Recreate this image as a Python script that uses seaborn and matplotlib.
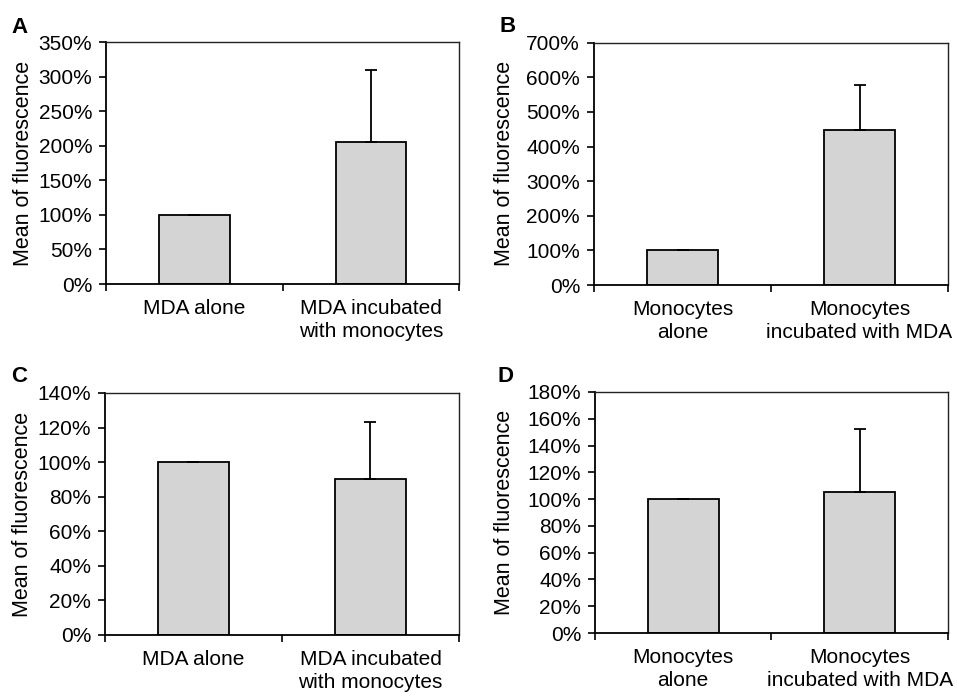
import numpy as np
import pandas as pd
import matplotlib
matplotlib.use("Agg")
import matplotlib.pyplot as plt
import seaborn as sns
from matplotlib.ticker import FixedLocator, PercentFormatter

sns.set_style("white")
plt.rcParams['font.family'] = ['Liberation Sans', 'DejaVu Sans']
plt.rcParams['text.color'] = 'black'
plt.rcParams['axes.labelcolor'] = 'black'
plt.rcParams['xtick.color'] = 'black'
plt.rcParams['ytick.color'] = 'black'

# data (percent of control)
labels_mda = ["MDA alone", "MDA incubated\nwith monocytes"]
labels_mono = ["Monocytes\nalone", "Monocytes\nincubated with MDA"]

means_a = [100, 206]
errs_a = [0, 104]
means_b = [100, 448]
errs_b = [0, 129]
means_c = [100, 90]
errs_c = [0, 33]
means_d = [100, 105.5]
errs_d = [0, 47]

ymax = [350, 700, 140, 180]
ystep = [50, 100, 20, 20]
letters = ["A", "B", "C", "D"]

fig = plt.figure(figsize=(9.57, 6.97), dpi=100)

# axes boxes in figure fractions
boxes = [
    [0.1108, 0.5925, 0.3689, 0.3472],
    [0.6207, 0.5911, 0.3699, 0.3476],
    [0.1097, 0.0890, 0.3699, 0.3472],
    [0.6217, 0.0918, 0.3689, 0.3458],
]
ylabel_x = [-0.204, -0.224, -0.204, -0.226]
letter_pos = [(0.012, 0.976), (0.522, 0.977), (0.012, 0.475), (0.520, 0.475)]

panels = [
    (labels_mda, means_a, errs_a),
    (labels_mono, means_b, errs_b),
    (labels_mda, means_c, errs_c),
    (labels_mono, means_d, errs_d),
]

for i, (cats, means, errs) in enumerate(panels):
    ax = fig.add_axes(boxes[i])
    df = pd.DataFrame({"cond": cats, "val": means})
    sns.barplot(data=df, x="cond", y="val", color="#d4d4d4", width=0.4,
                edgecolor="black", linewidth=1.3, errorbar=None, ax=ax,
                saturation=1)
    # upper error bars only
    ax.errorbar(x=np.arange(len(cats)), y=means,
                yerr=[np.zeros(len(errs)), errs], fmt="none",
                ecolor="black", elinewidth=1.3, capsize=4, capthick=1.3,
                zorder=3)
    ax.set_xlim(-0.5, 1.5)
    ax.set_ylim(0, ymax[i])
    ax.set_yticks(np.arange(0, ymax[i] + 1, ystep[i]))
    ax.yaxis.set_major_formatter(PercentFormatter(decimals=0))
    ax.set_xlabel("")
    ax.set_ylabel("Mean of fluorescence", fontsize=15.5)
    ax.yaxis.set_label_coords(ylabel_x[i], 0.5)

    # category boundary ticks on x like the original
    ax.xaxis.set_minor_locator(FixedLocator([-0.5, 0.5, 1.5]))
    ax.tick_params(axis="x", which="major", length=0, pad=11, labelsize=15)
    ax.tick_params(axis="x", which="minor", length=5, width=1.2,
                   direction="out", bottom=True, color="black")
    ax.tick_params(axis="y", which="major", length=5, width=1.2,
                   direction="out", left=True, pad=5, labelsize=15,
                   color="black")
    for lbl in ax.get_xticklabels():
        lbl.set_linespacing(1.25)

    for side in ["top", "right"]:
        ax.spines[side].set_color("#222222")
        ax.spines[side].set_linewidth(1.0)
    for side in ["left", "bottom"]:
        ax.spines[side].set_color("black")
        ax.spines[side].set_linewidth(1.3)

    fig.text(letter_pos[i][0], letter_pos[i][1], letters[i],
             fontsize=16, fontweight="bold", va="top", ha="left")

fig.savefig("out.png", dpi=100)
